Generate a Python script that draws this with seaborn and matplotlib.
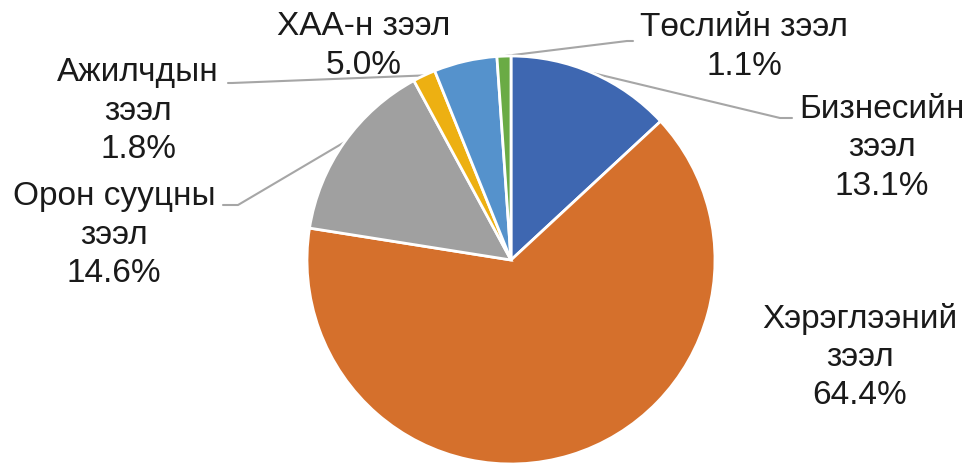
import matplotlib
matplotlib.use("Agg")
import matplotlib.pyplot as plt
import seaborn as sns
import numpy as np

sns.set_theme(style="white")
plt.rcParams['font.family'] = ['Liberation Sans', 'DejaVu Sans']

categories = ["Бизнесийн\nзээл", "Хэрэглээний\nзээл", "Орон сууцны\nзээл",
              "Ажилчдын\nзээл", "ХАА-н зээл", "Төслийн зээл"]
values = [13.1, 64.4, 14.6, 1.8, 5.0, 1.1]
colors = ["#3E67B1", "#D5702C", "#A0A0A0", "#EDB012", "#5592CC", "#6AAB45"]

# label centre positions (pixels, y measured from top) and leader line elbows
label_pos = [(882, 148), (860, 357), (114, 235), (138, 111), (364, 46), (744, 47)]
leader_elbow = [[(780, 118), (792, 118)], None, [(238, 205), (223, 205)],
                [(232, 83), (228, 83)], None, [(627, 41), (633, 41)]]

W, H = 971, 463
fig = plt.figure(figsize=(W / 100, H / 100), dpi=100)
ax = fig.add_axes([0, 0, 1, 1])
cx, cy, r = 511, H - 260, 204
wedges, _ = ax.pie(values, colors=colors, startangle=90, counterclock=False,
                   center=(cx, cy), radius=r,
                   wedgeprops=dict(edgecolor="white", linewidth=2))
ax.set_xlim(0, W)
ax.set_ylim(0, H)
ax.set_aspect("equal")
ax.axis("off")

for w, cat, v, (lx, ly), elbow in zip(wedges, categories, values, label_pos, leader_elbow):
    txt = f"{cat}\n{v:.1f}%"
    ax.text(lx, H - ly, txt, ha="center", va="center", fontsize=24,
            color="#1A1A1A", linespacing=1.3, multialignment="center")
    if elbow is not None:
        mid = np.deg2rad((w.theta1 + w.theta2) / 2)
        ex, ey = cx + r * np.cos(mid), cy + r * np.sin(mid)
        xs = [ex] + [p[0] for p in elbow]
        ys = [ey] + [H - p[1] for p in elbow]
        ax.plot(xs, ys, color="#A6A6A6", lw=1.5, zorder=0.5)

fig.savefig("out.png", dpi=100)
